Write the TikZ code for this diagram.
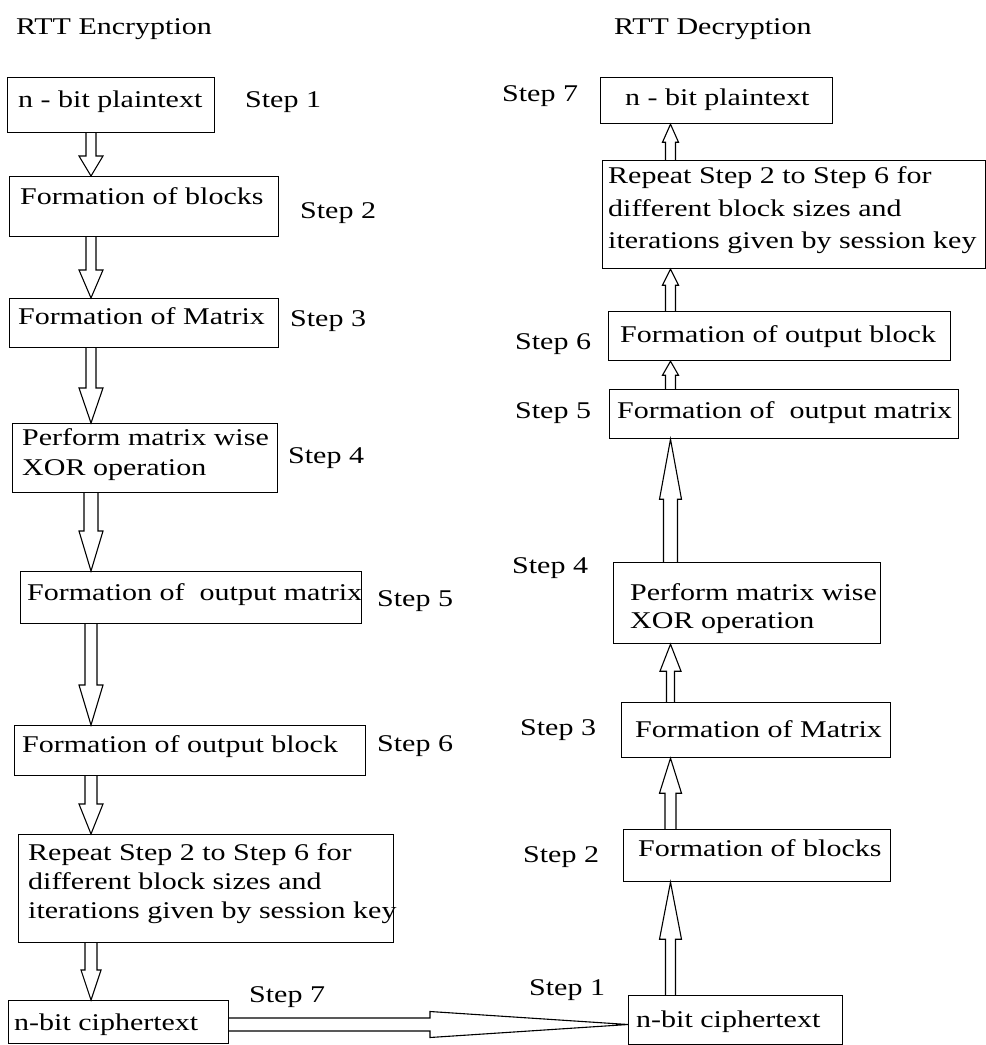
\documentclass[tikz,border=0pt]{standalone}
\usepackage{fontspec}
\setmainfont{Liberation Serif}[FakeStretch=1.25]
\usetikzlibrary{calc}
\tikzset{
  boxn/.style={draw=black, line width=1.2pt, inner sep=0pt, anchor=north west, rectangle},
  lbl/.style={font=\fontsize{24}{30}\selectfont, inner sep=0pt, anchor=base west},
  harrow/.style={draw=black, line width=1.1pt, line join=miter},
}
% box: name, x1, y1, x2, y2
\newcommand\mybox[5]{\node[boxn, minimum width={(#4-#2)*1pt}, minimum height={(#5-#3)*1pt}] (#1) at (#2,#3) {};}
% hollow arrow: start, tip, shaft half width, head half width, head length
\newcommand\hollow[5]{%
  \coordinate (ha-p) at (#1);
  \coordinate (ha-q) at (#2);
  \coordinate (ha-b) at ($(ha-q)!#5!(ha-p)$);
  \draw[harrow] ($(ha-p)!#3!90:(ha-q)$) -- ($(ha-b)!#3!90:(ha-q)$) -- ($(ha-b)!#4!90:(ha-q)$) -- (ha-q)
     -- ($(ha-b)!#4!-90:(ha-q)$) -- ($(ha-b)!#3!-90:(ha-q)$) -- ($(ha-p)!#3!-90:(ha-q)$);
}
\begin{document}
\begin{tikzpicture}[x=1pt,y=-1pt]
\fill[white] (0,0) rectangle (986,1045);
\useasboundingbox (0,0) rectangle (986,1045);

% headers
\node[lbl] (hl) at (16,34) {RTT Encryption};
\node[lbl] (hr) at (614,34) {RTT Decryption};

% left column boxes
\mybox{l1}{7}{77}{214}{132}
\mybox{l2}{9}{176}{278}{236}
\mybox{l3}{9}{298}{278}{347}
\mybox{l4}{12}{423}{277}{492}
\mybox{l5}{20}{571}{361}{623}
\mybox{l6}{14}{725}{365}{775}
\mybox{l7}{18}{834}{393}{942}
\mybox{l8}{8}{1000}{228}{1043}

\node[lbl] (tl1) at (18,107) {n - bit plaintext};
\node[lbl] (tl2) at (20,204) {Formation of blocks};
\node[lbl] (tl3) at (18,324) {Formation of Matrix};
\node[lbl] (tl4a) at (22,445) {Perform matrix wise};
\node[lbl] (tl4b) at (22,475) {XOR operation};
\node[lbl] (tl5) at (27,600) {Formation of~ output matrix};
\node[lbl] (tl6) at (22,752) {Formation of output block};
\node[lbl] (tl7a) at (28,860) {Repeat Step 2 to Step 6 for};
\node[lbl] (tl7b) at (28,889) {different block sizes and};
\node[lbl] (tl7c) at (28,918) {iterations given by session key};
\node[lbl] (tl8) at (14,1030) {n-bit ciphertext};

\node[lbl] (sl1) at (245,107) {Step 1};
\node[lbl] (sl2) at (300,218) {Step 2};
\node[lbl] (sl3) at (290,326) {Step 3};
\node[lbl] (sl4) at (288,463) {Step 4};
\node[lbl] (sl5) at (377,606) {Step 5};
\node[lbl] (sl6) at (377,751) {Step 6};
\node[lbl] (sl7) at (249,1002) {Step 7};

% right column boxes
\mybox{r1}{600}{77}{832}{123}
\mybox{r2}{602}{160}{985}{268}
\mybox{r3}{608}{311}{950}{360}
\mybox{r4}{609}{389}{958}{438}
\mybox{r5}{613}{562}{880}{643}
\mybox{r6}{621}{702}{890}{757}
\mybox{r7}{623}{829}{890}{881}
\mybox{r8}{628}{995}{842}{1044}

\node[lbl] (tr1) at (625,105) {n - bit plaintext};
\node[lbl] (tr2a) at (608,183) {Repeat Step 2 to Step 6 for};
\node[lbl] (tr2b) at (608,216) {different block sizes and};
\node[lbl] (tr2c) at (608,248) {iterations given by session key};
\node[lbl] (tr3) at (620,342) {Formation of output block};
\node[lbl] (tr4) at (617,418) {Formation of~ output matrix};
\node[lbl] (tr5a) at (630,600) {Perform matrix wise};
\node[lbl] (tr5b) at (630,628) {XOR operation};
\node[lbl] (tr6) at (635,737) {Formation of Matrix};
\node[lbl] (tr7) at (638,856) {Formation of blocks};
\node[lbl] (tr8) at (636,1027) {n-bit ciphertext};

\node[lbl] (sr7) at (502,101) {Step 7};
\node[lbl] (sr6) at (515,349) {Step 6};
\node[lbl] (sr5) at (515,418) {Step 5};
\node[lbl] (sr4) at (512,573) {Step 4};
\node[lbl] (sr3) at (520,735) {Step 3};
\node[lbl] (sr2) at (523,862) {Step 2};
\node[lbl] (sr1) at (529,995) {Step 1};

% arrows
\coordinate (lx) at (91,0);
\coordinate (rx) at (670.5,0);
\coordinate (hy) at (0,1024.5);

\hollow{l1.south -| lx}{l2.north -| lx}{5pt}{12pt}{20pt}
\hollow{l2.south -| lx}{l3.north -| lx}{5pt}{12pt}{28pt}
\hollow{l3.south -| lx}{l4.north -| lx}{5pt}{12pt}{35pt}
\hollow{l4.south -| lx}{l5.north -| lx}{7pt}{12pt}{40pt}
\hollow{l5.south -| lx}{l6.north -| lx}{6pt}{12pt}{40pt}
\hollow{l6.south -| lx}{l7.north -| lx}{6pt}{12pt}{30pt}
\hollow{l7.south -| lx}{l8.north -| lx}{6pt}{10pt}{30pt}

\hollow{l8.east |- hy}{r8.west |- hy}{6.5pt}{13pt}{198pt}

\hollow{r8.north -| rx}{r7.south -| rx}{5pt}{11pt}{57pt}
\hollow{r7.north -| rx}{r6.south -| rx}{5.5pt}{11pt}{35pt}
\hollow{r6.north -| rx}{r5.south -| rx}{4pt}{10.5pt}{27pt}
\hollow{r5.north -| rx}{r4.south -| rx}{7pt}{11pt}{60pt}
\hollow{r4.north -| rx}{r3.south -| rx}{5pt}{8pt}{14pt}
\hollow{r3.north -| rx}{r2.south -| rx}{5pt}{8pt}{16pt}
\hollow{r2.north -| rx}{r1.south -| rx}{5pt}{8pt}{18pt}
\end{tikzpicture}
\end{document}
